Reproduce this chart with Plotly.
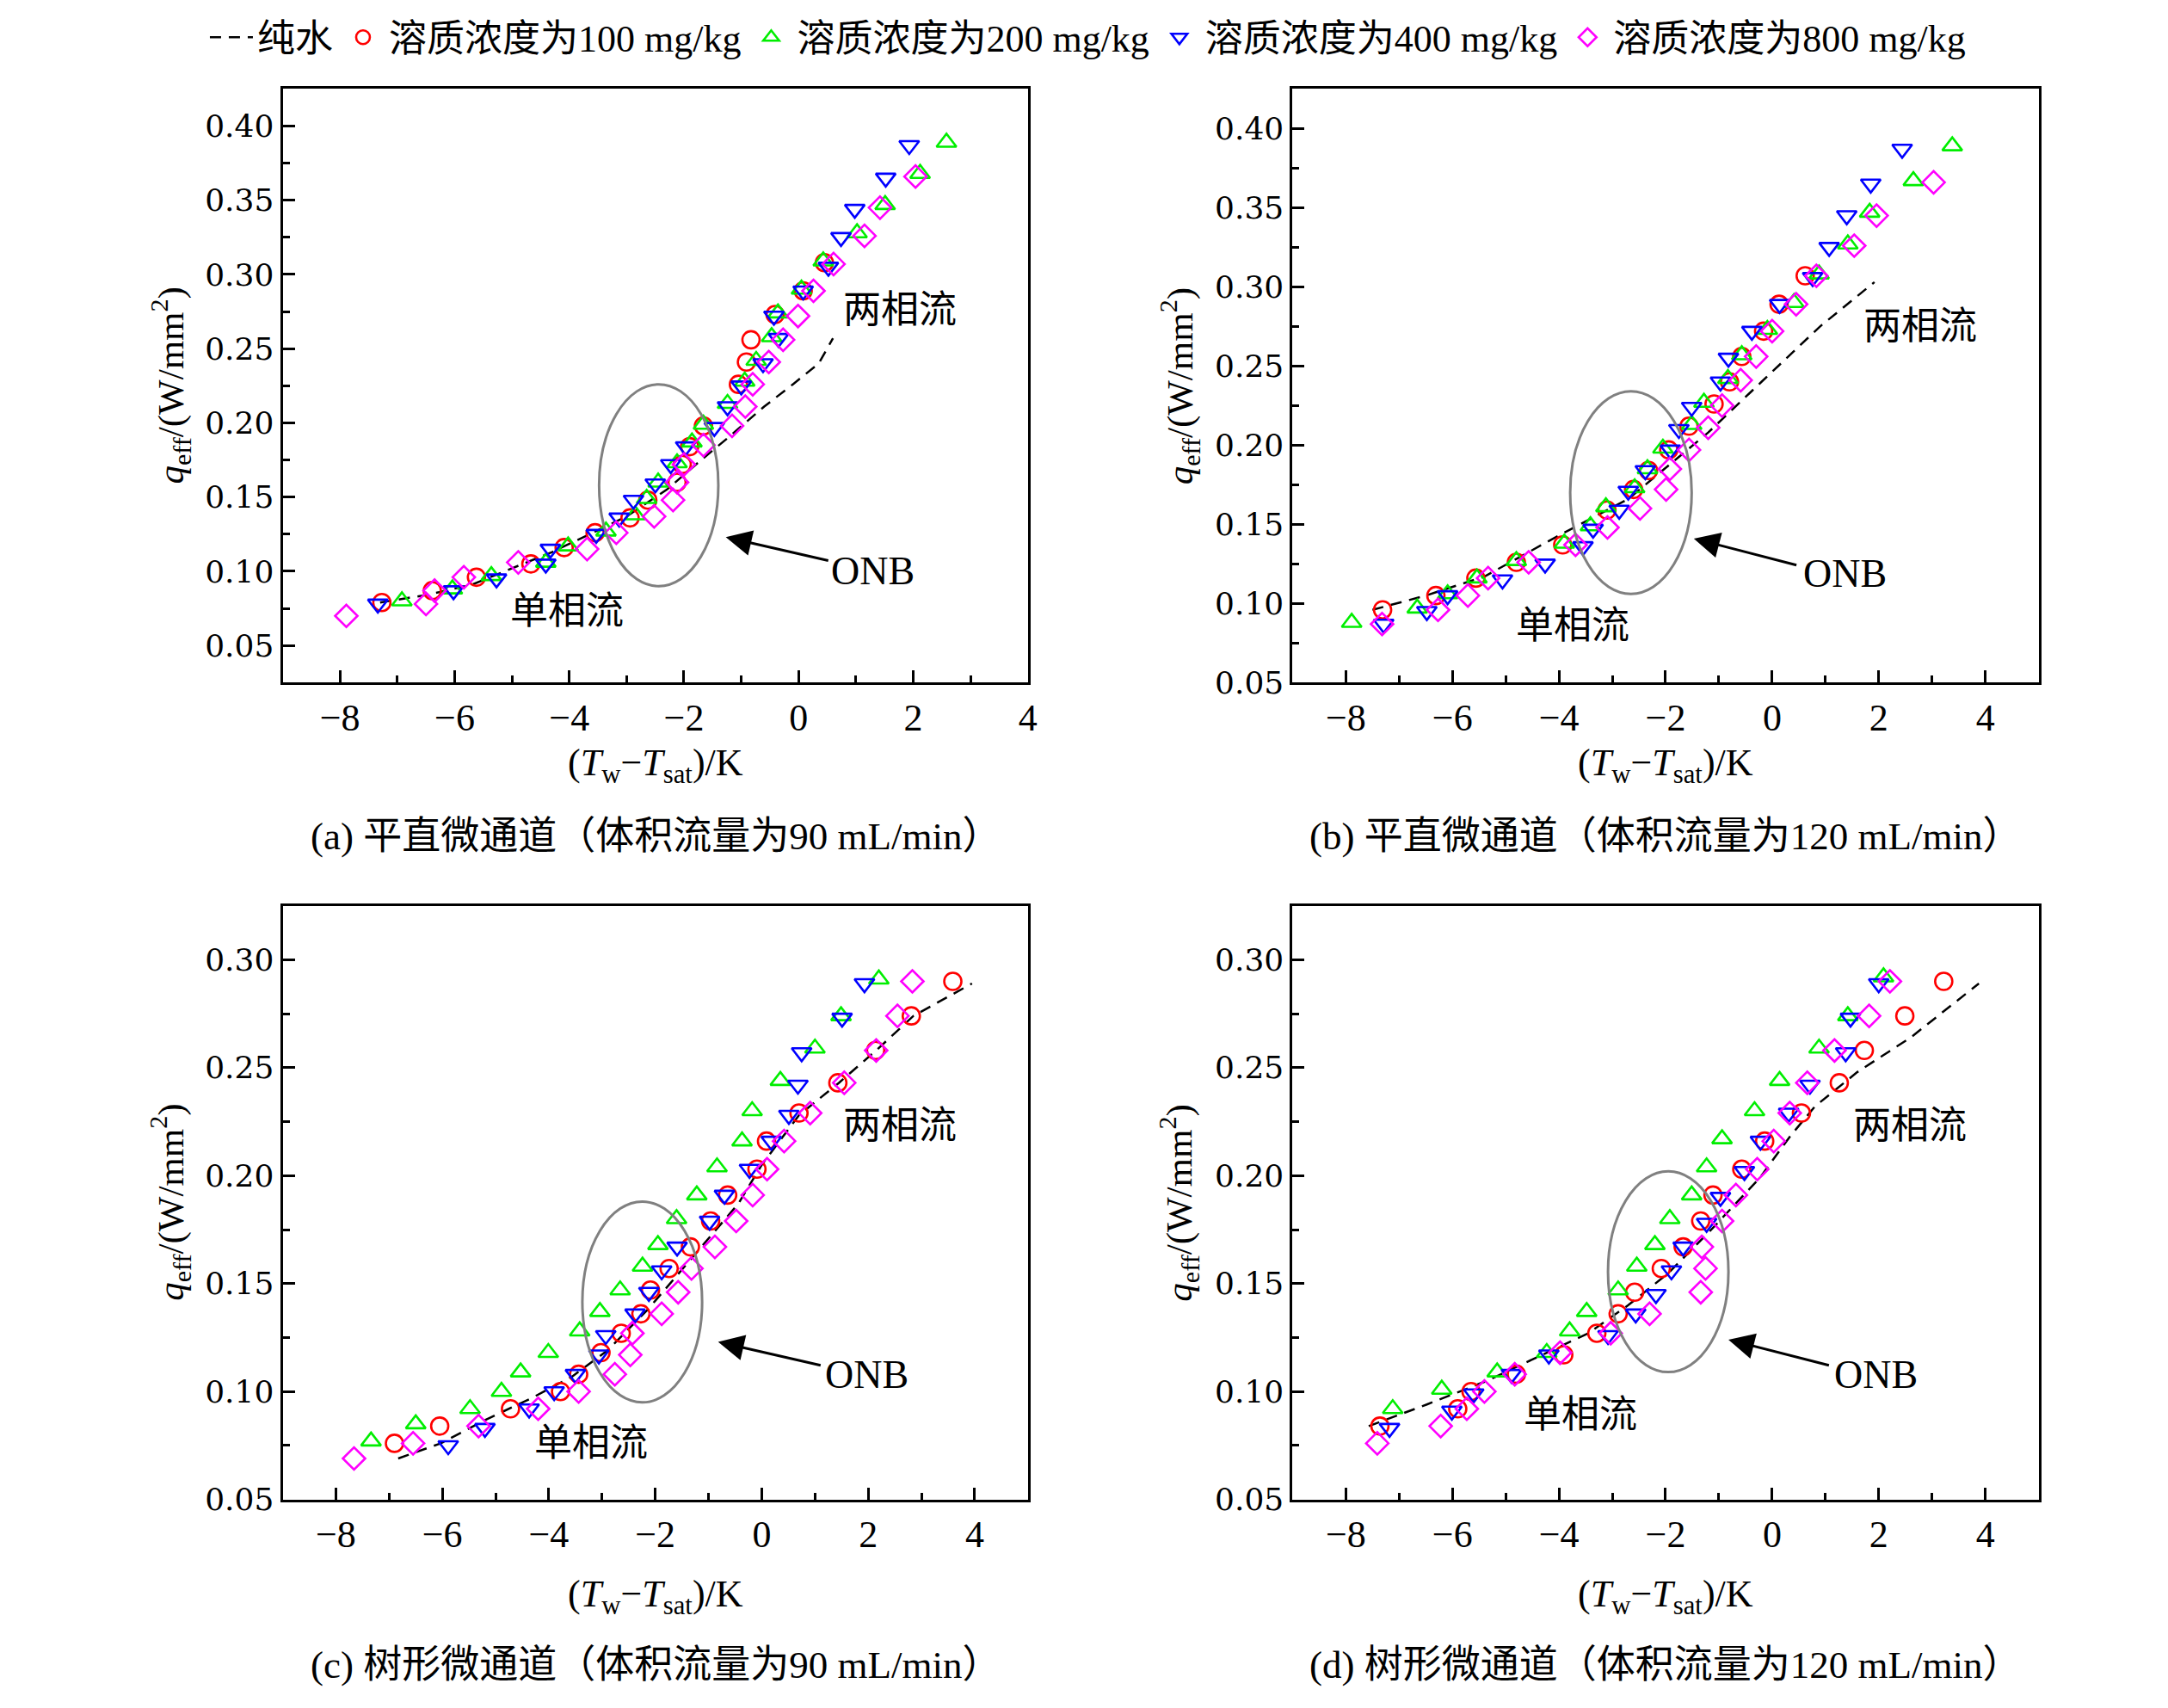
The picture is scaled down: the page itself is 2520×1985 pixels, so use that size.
import plotly.graph_objects as go

# ---- data ----
series_names = ["纯水", "溶质浓度为100 mg/kg", "溶质浓度为200 mg/kg",
                "溶质浓度为400 mg/kg", "溶质浓度为800 mg/kg"]
captions = ["(a) 平直微通道（体积流量为90 mL/min）",
            "(b) 平直微通道（体积流量为120 mL/min）",
            "(c) 树形微通道（体积流量为90 mL/min）",
            "(d) 树形微通道（体积流量为120 mL/min）"]

# (a)
a_water_x = [-7.3, -6.5, -5.7, -5.0, -4.3, -3.7, -3.0, -2.3, -1.7, -1.2, -0.6, -0.1, 0.35, 0.6]
a_water_y = [0.079, 0.084, 0.091, 0.102, 0.113, 0.124, 0.137, 0.155, 0.175, 0.191, 0.211, 0.226, 0.240, 0.257]
a_c100_x = [-7.27, -6.39, -5.62, -4.67, -4.09, -3.55, -2.94, -2.63, -2.12, -2.03, -1.90, -1.66, -1.05, -0.91, -0.83, -0.41, 0.08, 0.45]
a_c100_y = [0.079, 0.087, 0.096, 0.105, 0.116, 0.126, 0.136, 0.148, 0.160, 0.172, 0.184, 0.198, 0.226, 0.241, 0.256, 0.273, 0.289, 0.308]
a_c200_x = [-6.92, -6.04, -5.36, -4.41, -4.02, -3.36, -2.85, -2.65, -2.45, -2.12, -1.86, -1.66, -1.24, -0.94, -0.74, -0.47, -0.36, 0.05, 0.43, 1.02, 1.51, 2.12, 2.58]
a_c200_y = [0.080, 0.088, 0.097, 0.106, 0.117, 0.127, 0.138, 0.149, 0.160, 0.173, 0.187, 0.199, 0.213, 0.228, 0.242, 0.258, 0.274, 0.290, 0.309, 0.328, 0.347, 0.368, 0.389]
a_c400_x = [-7.34, -6.02, -5.27, -4.41, -4.33, -3.53, -3.13, -2.88, -2.50, -2.23, -1.97, -1.47, -1.24, -1.00, -0.62, -0.35, -0.43, 0.08, 0.52, 0.74, 0.98, 1.52, 1.93]
a_c400_y = [0.078, 0.087, 0.095, 0.105, 0.115, 0.125, 0.136, 0.148, 0.159, 0.172, 0.184, 0.197, 0.211, 0.225, 0.240, 0.257, 0.272, 0.289, 0.305, 0.325, 0.344, 0.365, 0.387]
a_c800_x = [-7.89, -6.50, -6.35, -5.84, -4.89, -3.69, -3.18, -2.52, -2.19, -2.12, -2.00, -1.66, -1.16, -0.93, -0.80, -0.52, -0.27, -0.01, 0.26, 0.61, 1.15, 1.42, 2.04]
a_c800_y = [0.070, 0.078, 0.087, 0.096, 0.106, 0.115, 0.126, 0.137, 0.148, 0.160, 0.172, 0.185, 0.198, 0.211, 0.226, 0.241, 0.256, 0.272, 0.289, 0.307, 0.326, 0.345, 0.366]

# (b)
b_water_x = [-7.5, -6.5, -5.4, -4.0, -2.7, -1.2, -0.2, 0.9, 1.92]
b_water_y = [0.096, 0.105, 0.117, 0.143, 0.166, 0.208, 0.240, 0.275, 0.303]
b_c100_x = [-7.31, -6.31, -5.56, -4.80, -3.93, -3.10, -2.60, -2.32, -1.94, -1.56, -1.09, -0.80, -0.57, -0.16, 0.13, 0.62]
b_c100_y = [0.096, 0.105, 0.116, 0.126, 0.137, 0.159, 0.172, 0.184, 0.197, 0.212, 0.226, 0.240, 0.256, 0.272, 0.289, 0.307]
b_c200_x = [-7.89, -6.66, -6.09, -5.54, -4.80, -3.90, -3.41, -3.12, -2.58, -2.34, -2.05, -1.51, -1.28, -0.83, -0.57, -0.09, 0.41, 0.88, 1.42, 1.83, 2.65, 3.38]
b_c200_y = [0.088, 0.097, 0.106, 0.116, 0.127, 0.138, 0.149, 0.161, 0.173, 0.185, 0.198, 0.213, 0.227, 0.242, 0.257, 0.273, 0.290, 0.308, 0.327, 0.347, 0.367, 0.389]
b_c400_x = [-7.29, -6.48, -6.09, -5.06, -4.26, -3.55, -3.36, -2.87, -2.70, -2.38, -1.91, -1.75, -1.51, -0.97, -0.82, -0.38, 0.14, 0.76, 1.07, 1.40, 1.85, 2.44]
b_c400_y = [0.087, 0.095, 0.105, 0.115, 0.125, 0.136, 0.147, 0.159, 0.171, 0.184, 0.197, 0.210, 0.224, 0.240, 0.255, 0.272, 0.289, 0.306, 0.325, 0.345, 0.365, 0.387]
b_c800_x = [-7.32, -6.27, -5.71, -5.33, -4.57, -3.69, -3.09, -2.48, -1.99, -1.92, -1.56, -1.20, -0.94, -0.59, -0.30, 0.00, 0.45, 0.83, 1.54, 1.96, 3.03]
b_c800_y = [0.087, 0.096, 0.105, 0.116, 0.126, 0.137, 0.148, 0.160, 0.172, 0.185, 0.197, 0.211, 0.225, 0.241, 0.256, 0.272, 0.289, 0.307, 0.326, 0.345, 0.366]

# (c)
c_water_x = [-6.83, -6.03, -5.18, -4.32, -3.56, -2.90, -2.14, -1.38, -0.44, 0.0, 0.7, 1.45, 2.15, 2.85, 3.95]
c_water_y = [0.069, 0.076, 0.087, 0.097, 0.107, 0.119, 0.138, 0.160, 0.187, 0.205, 0.228, 0.243, 0.258, 0.274, 0.289]
c_c100_x = [-6.90, -6.05, -4.72, -3.78, -3.44, -3.02, -2.64, -2.27, -2.09, -1.74, -1.34, -0.96, -0.64, -0.09, 0.09, 0.70, 1.43, 2.14, 2.81, 3.59]
c_c100_y = [0.076, 0.084, 0.092, 0.100, 0.108, 0.118, 0.127, 0.136, 0.147, 0.157, 0.167, 0.179, 0.191, 0.203, 0.216, 0.229, 0.243, 0.258, 0.274, 0.290]
c_c200_x = [-7.34, -6.50, -5.48, -4.89, -4.53, -4.01, -3.42, -3.04, -2.66, -2.24, -1.95, -1.60, -1.22, -0.84, -0.37, -0.18, 0.35, 1.00, 1.49, 2.20]
c_c200_y = [0.077, 0.085, 0.092, 0.100, 0.109, 0.118, 0.128, 0.137, 0.147, 0.158, 0.168, 0.180, 0.191, 0.204, 0.216, 0.230, 0.244, 0.259, 0.274, 0.291]
c_c400_x = [-5.89, -5.20, -4.37, -3.90, -3.50, -3.06, -2.93, -2.38, -2.12, -1.88, -1.59, -0.98, -0.70, -0.23, 0.18, 0.51, 0.68, 0.75, 1.51, 1.93]
c_c400_y = [0.075, 0.083, 0.092, 0.100, 0.108, 0.117, 0.126, 0.136, 0.146, 0.156, 0.167, 0.179, 0.191, 0.203, 0.216, 0.228, 0.242, 0.257, 0.273, 0.289]
c_c800_x = [-7.66, -6.55, -5.32, -4.20, -3.44, -2.76, -2.47, -2.43, -1.88, -1.57, -1.32, -0.88, -0.48, -0.17, 0.10, 0.42, 0.91, 1.55, 2.15, 2.55, 2.83]
c_c800_y = [0.069, 0.076, 0.084, 0.092, 0.100, 0.108, 0.117, 0.127, 0.136, 0.146, 0.157, 0.167, 0.179, 0.191, 0.203, 0.216, 0.229, 0.243, 0.258, 0.274, 0.290]

# (d)
d_water_x = [-7.57, -6.48, -5.35, -4.40, -3.45, -2.70, -1.94, -1.18, -0.23, 0.33, 0.8, 1.6, 2.6, 3.88]
d_water_y = [0.084, 0.094, 0.105, 0.116, 0.127, 0.140, 0.155, 0.174, 0.199, 0.218, 0.232, 0.248, 0.264, 0.289]
d_c100_x = [-7.36, -5.90, -5.65, -4.80, -3.91, -3.29, -2.89, -2.58, -2.08, -1.67, -1.34, -1.11, -0.57, -0.14, 0.55, 1.26, 1.73, 2.49, 3.22]
d_c100_y = [0.084, 0.092, 0.100, 0.108, 0.117, 0.127, 0.136, 0.146, 0.157, 0.167, 0.179, 0.191, 0.203, 0.216, 0.229, 0.243, 0.258, 0.274, 0.290]
d_c200_x = [-7.12, -6.20, -5.16, -4.23, -3.80, -3.48, -2.89, -2.54, -2.20, -1.92, -1.51, -1.23, -0.94, -0.33, 0.14, 0.88, 1.42, 2.09]
d_c200_y = [0.092, 0.101, 0.109, 0.118, 0.128, 0.137, 0.147, 0.158, 0.168, 0.180, 0.191, 0.204, 0.217, 0.230, 0.244, 0.259, 0.274, 0.292]
d_c400_x = [-7.18, -6.01, -5.60, -4.89, -4.19, -3.08, -2.56, -2.18, -1.89, -1.67, -1.23, -0.97, -0.52, -0.22, 0.31, 0.71, 1.38, 1.47, 2.00]
d_c400_y = [0.083, 0.091, 0.099, 0.108, 0.117, 0.126, 0.136, 0.145, 0.156, 0.167, 0.178, 0.190, 0.202, 0.216, 0.229, 0.242, 0.257, 0.273, 0.289]
d_c800_x = [-7.41, -6.22, -5.73, -5.40, -4.83, -3.98, -3.03, -2.30, -1.34, -1.25, -1.32, -0.94, -0.68, -0.28, 0.03, 0.33, 0.66, 1.17, 1.82, 2.21]
d_c800_y = [0.076, 0.084, 0.092, 0.100, 0.108, 0.118, 0.127, 0.136, 0.146, 0.157, 0.167, 0.179, 0.191, 0.203, 0.216, 0.229, 0.243, 0.258, 0.274, 0.290]

# ---- styling / layout ----
FONT = "Liberation Serif, Noto Sans CJK SC, serif"
FS = 44
W, H = 2504, 1969          # page has an 8px body margin
symbols = ["circle-open", "triangle-up-open", "triangle-down-open", "diamond-open"]
colors = ["#ff0000", "#00ee00", "#0000ff", "#ff00ff"]


def px(xp):
    return (xp - 8) / W


def py(yp):
    return 1 - (yp - 8) / H


col_x = [[px(330), px(1200)], [px(1509), px(2380)]]
row_y = [[py(789), py(84)], [py(1759), py(1054)]]

panels = [
    dict(water=(a_water_x, a_water_y),
         pts=[(a_c100_x, a_c100_y), (a_c200_x, a_c200_y), (a_c400_x, a_c400_y), (a_c800_x, a_c800_y)],
         xr=[-9, 4], yr=[0.025, 0.425],
         ell=(-3.48, -1.40, 0.090, 0.226), arrow=(-1.27, 0.123, 0.54, 0.107), onb=(1.29, 0.100),
         two=(1.77, 0.276), one=(-4.04, 0.073)),
    dict(water=(b_water_x, b_water_y),
         pts=[(b_c100_x, b_c100_y), (b_c200_x, b_c200_y), (b_c400_x, b_c400_y), (b_c800_x, b_c800_y)],
         xr=[-9, 5], yr=[0.05, 0.425],
         ell=(-3.79, -1.51, 0.106, 0.234), arrow=(-1.47, 0.141, 0.48, 0.124), onb=(1.36, 0.119),
         two=(2.78, 0.275), one=(-3.74, 0.086)),
    dict(water=(c_water_x, c_water_y),
         pts=[(c_c100_x, c_c100_y), (c_c200_x, c_c200_y), (c_c400_x, c_c400_y), (c_c800_x, c_c800_y)],
         xr=[-9, 5], yr=[0.05, 0.325],
         ell=(-3.37, -1.12, 0.095, 0.188), arrow=(-0.82, 0.123, 1.13, 0.112), onb=(1.98, 0.108),
         two=(2.60, 0.223), one=(-3.20, 0.076)),
    dict(water=(d_water_x, d_water_y),
         pts=[(d_c100_x, d_c100_y), (d_c200_x, d_c200_y), (d_c400_x, d_c400_y), (d_c800_x, d_c800_y)],
         xr=[-9, 5], yr=[0.05, 0.325],
         ell=(-3.08, -0.82, 0.109, 0.202), arrow=(-0.82, 0.124, 1.09, 0.112), onb=(1.94, 0.108),
         two=(2.59, 0.223), one=(-3.60, 0.089)),
]

xtitle_y = [py(887), py(1874)]
caption_y = [py(972), py(1956)]
ytitle_x = [px(199), px(1377)]

fig = go.Figure()
annotations = []
shapes = []
layout_axes = {}


def txt(x, y, s, xref, yref, size=FS, **kw):
    return dict(x=x, y=y, xref=xref, yref=yref, text=s, showarrow=False,
                xanchor="center", yanchor="middle",
                font=dict(family=FONT, size=size, color="black"), **kw)


for i, p in enumerate(panels):
    n = "" if i == 0 else str(i + 1)
    xa, ya = "x" + n, "y" + n
    first = i == 0
    r, c = divmod(i, 2)
    xd, yd = col_x[c], row_y[r]

    fig.add_trace(go.Scatter(
        x=p["water"][0], y=p["water"][1], mode="lines", name=series_names[0],
        line=dict(color="black", width=2.5, dash="13px,9px"),
        xaxis=xa, yaxis=ya, showlegend=first, legendgroup="w"))
    for k, (xs, ys) in enumerate(p["pts"]):
        fig.add_trace(go.Scatter(
            x=xs, y=ys, mode="markers", name=series_names[k + 1],
            marker=dict(symbol=symbols[k], size=20, color=colors[k], line=dict(width=2.6, color=colors[k])),
            xaxis=xa, yaxis=ya, showlegend=first, legendgroup=str(k)))

    common = dict(showline=True, linewidth=3, linecolor="black", mirror=True,
                  showgrid=False, zeroline=False, ticks="inside", ticklen=14,
                  tickwidth=3, tickcolor="black")
    layout_axes["xaxis" + n] = dict(
        common, domain=xd, range=p["xr"], anchor=ya, tick0=0, dtick=2,
        tickfont=dict(family=FONT, size=44, color="black"),
        minor=dict(ticks="inside", dtick=1, ticklen=8, tickwidth=3, tickcolor="black"))
    layout_axes["yaxis" + n] = dict(
        common, domain=yd, range=p["yr"], anchor=xa, tick0=0, dtick=0.05,
        tickformat=".2f", tickfont=dict(family="DejaVu Serif", size=36, color="black"),
        minor=dict(ticks="inside", dtick=0.025, ticklen=8, tickwidth=3, tickcolor="black"))

    x0, x1, y0, y1 = p["ell"]
    shapes.append(dict(type="circle", xref=xa, yref=ya, x0=x0, x1=x1, y0=y0, y1=y1,
                       line=dict(color="#808080", width=3)))
    hx, hy, tx, ty = p["arrow"]
    annotations.append(dict(x=hx, y=hy, ax=tx, ay=ty, xref=xa, yref=ya, axref=xa, ayref=ya,
                            text="", showarrow=True, arrowhead=2, arrowsize=2,
                            arrowwidth=3, arrowcolor="black"))
    annotations.append(txt(p["onb"][0], p["onb"][1], "ONB", xa, ya, size=46))
    annotations.append(txt(p["two"][0], p["two"][1], "两相流", xa, ya))
    annotations.append(txt(p["one"][0], p["one"][1], "单相流", xa, ya))

    xc = (xd[0] + xd[1]) / 2
    yc = (yd[0] + yd[1]) / 2
    annotations.append(txt(xc, xtitle_y[r], "(<i>T</i><sub>w</sub>−<i>T</i><sub>sat</sub>)/K",
                           "paper", "paper"))
    annotations.append(txt(ytitle_x[c], yc, "<i>q</i><sub>eff</sub>/(W/mm<sup>2</sup>)",
                           "paper", "paper", size=43, textangle=-90))
    annotations.append(txt(xc, caption_y[r], captions[i], "paper", "paper", size=45))

fig.update_layout(
    width=W, height=H,
    margin=dict(l=0, r=0, t=0, b=0),
    paper_bgcolor="white", plot_bgcolor="white",
    font=dict(family=FONT, size=FS, color="black"),
    legend=dict(orientation="h", x=px(1270), xanchor="center", y=py(23), yanchor="middle",
                font=dict(family=FONT, size=FS), itemwidth=50, tracegroupgap=0),
    annotations=annotations, shapes=shapes,
    **layout_axes,
)

fig.write_html("out.html")
